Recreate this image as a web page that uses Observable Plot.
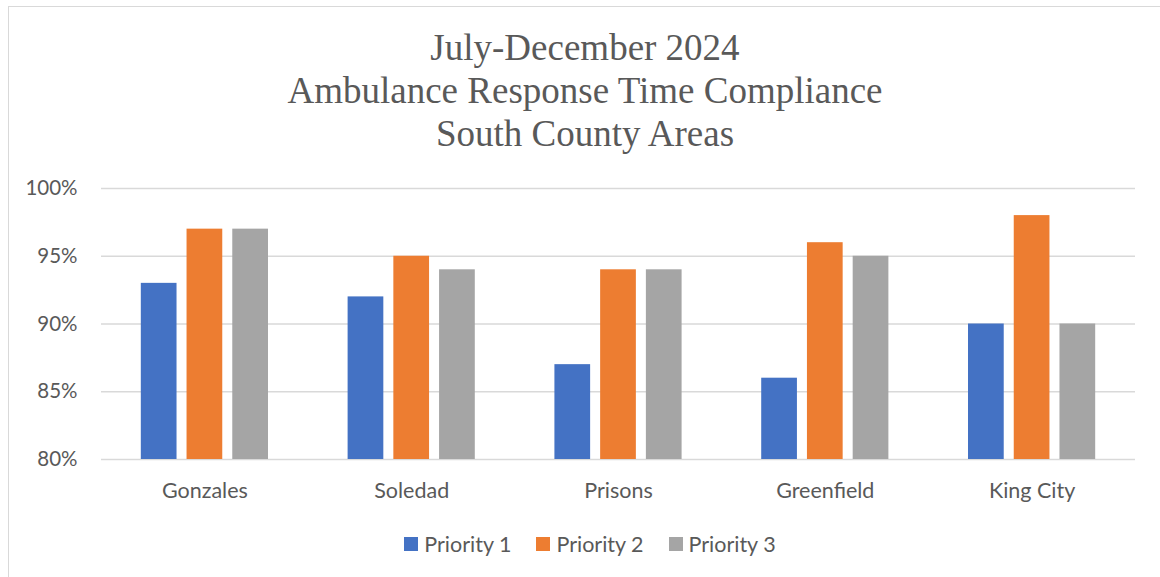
<!DOCTYPE html>
<html>
<head>
<meta charset="utf-8">
<script src="https://cdn.jsdelivr.net/npm/d3@7"></script>
<script src="https://cdn.jsdelivr.net/npm/@observablehq/plot@0.6"></script>
<style>
  html, body { margin: 0; padding: 0; background: #fff; }
  #wrap { position: relative; width: 1160px; height: 577px; overflow: hidden; }
  #frame { position: absolute; left: 8px; top: 6px; width: 1200px; height: 700px;
           border-top: 1px solid #d9d9d9; border-left: 1px solid #d9d9d9; box-sizing: border-box; }
  #title { position: absolute; left: 0; top: 26px; width: 1170px; text-align: center;
           font-family: "Liberation Serif", "Times New Roman", serif; font-size: 37px;
           line-height: 43px; color: #595959; }
  .layer { position: absolute; left: 0; top: 0; }
  #legend { position: absolute; left: 0; top: 530px; width: 1180px; display: flex; justify-content: center;
            font-family: Lato, "Open Sans", sans-serif; font-size: 21.5px; color: #595959; line-height: 28px; }
  .item { display: flex; align-items: center; margin: 0 12.5px; }
  .sw { width: 14px; height: 14px; margin-right: 6px; }
</style>
</head>
<body>
<div id="wrap">
  <div id="frame"></div>
  <div id="grid" class="layer"></div>
  <div id="bars" class="layer"></div>
  <div id="title"></div>
  <div id="legend"></div>
</div>
<script>
const titleLines = ["July-December 2024", "Ambulance Response Time Compliance", "South County Areas"];
const areas = ["Gonzales", "Soledad", "Prisons", "Greenfield", "King City"];
const series = ["Priority 1", "Priority 2", "Priority 3"];
const priority1 = [93, 92, 87, 86, 90];
const priority2 = [97, 95, 94, 96, 98];
const priority3 = [97, 94, 94, 95, 90];
const yTicks = [80, 85, 90, 95, 100];
const colors = ["#4472C4", "#ED7D31", "#A5A5A5"];

const seriesValues = [priority1, priority2, priority3];
const data = [];
areas.forEach((a, i) => {
  series.forEach((s, j) => data.push({area: a, series: s, value: seriesValues[j][i]}));
});

document.getElementById("title").innerHTML = titleLines.map(t => `<div>${t}</div>`).join("");
document.getElementById("legend").innerHTML = series.map((s, j) =>
  `<div class="item"><div class="sw" style="background:${colors[j]}"></div><span>${s}</span></div>`).join("");

const common = {
  width: 1160,
  height: 577,
  marginTop: 188,
  marginBottom: 118,
  marginLeft: 101,
  marginRight: 25,
  style: {fontFamily: "Lato, 'Open Sans', sans-serif", fontSize: "20px", color: "#595959", background: "transparent"},
  y: {domain: [80, 100], label: null}
};

// Background layer: gridlines and y axis spanning the whole frame
const gridPlot = Plot.plot({
  ...common,
  marks: [
    Plot.ruleY(yTicks, {stroke: "#d9d9d9", strokeWidth: 1.3}),
    Plot.axisY(yTicks, {tickSize: 0, tickPadding: 24, tickFormat: d => d + "%", fontSize: 20.5, fill: "#595959"})
  ]
});
document.getElementById("grid").appendChild(gridPlot);

// Foreground layer: grouped bars (faceted by area)
const barPlot = Plot.plot({
  ...common,
  fx: {domain: areas, paddingInner: 0.385, paddingOuter: 0.1925, round: false, label: null},
  x: {domain: series, paddingInner: 0.219, paddingOuter: 0, round: false, axis: null},
  color: {domain: series, range: colors},
  marks: [
    Plot.barY(data, {fx: "area", x: "series", y1: 80, y2: "value", fill: "series"}),
    Plot.axisY({ticks: [], label: null}),
    Plot.axisFx({anchor: "bottom", tickSize: 0, tickPadding: 23, fontSize: 21.5, fill: "#595959"})
  ]
});
document.getElementById("bars").appendChild(barPlot);
</script>
</body>
</html>
